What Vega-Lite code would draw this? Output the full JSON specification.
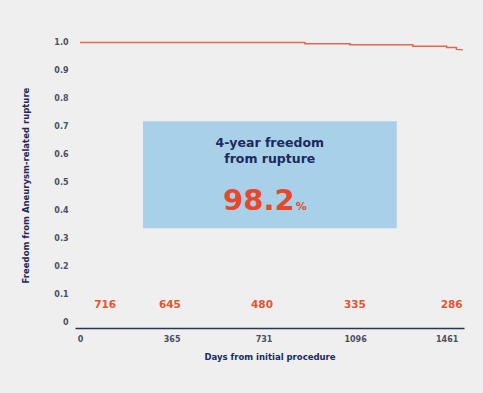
{
  "$schema": "https://vega.github.io/schema/vega-lite/v6.json",
  "autosize": {"type": "none"},
  "width": 389,
  "height": 294,
  "padding": {"left": 75, "top": 34, "right": 19, "bottom": 65},
  "background": "#efefef",
  "config": {"view": {"stroke": null}, "font": "DejaVu Sans", "axis": {"labelOverlap": false}},
  "datasets": {
    "km": [
      {"day": 0, "surv": 1.0},
      {"day": 896, "surv": 1.0},
      {"day": 896, "surv": 0.995},
      {"day": 1075, "surv": 0.995},
      {"day": 1075, "surv": 0.992},
      {"day": 1326, "surv": 0.992},
      {"day": 1326, "surv": 0.986},
      {"day": 1461, "surv": 0.986},
      {"day": 1461, "surv": 0.982},
      {"day": 1500, "surv": 0.982},
      {"day": 1500, "surv": 0.975},
      {"day": 1525, "surv": 0.974}
    ],
    "risk": [
      {"day": 100, "n": "716"},
      {"day": 358, "n": "645"},
      {"day": 725, "n": "480"},
      {"day": 1095, "n": "335"},
      {"day": 1481, "n": "286"}
    ],
    "box": [{"x1": 251, "x2": 1262, "y1": 0.336, "y2": 0.718}],
    "headline": [
      {"day": 756, "y": 0.641, "t": "4-year freedom"},
      {"day": 756, "y": 0.584, "t": "from rupture"}
    ],
    "value": [{"day": 855, "y": 0.401, "t": "98.2"}],
    "unit": [{"day": 860, "y": 0.401, "t": "%"}]
  },
  "layer": [
    {
      "data": {"name": "box"},
      "mark": {"type": "rect", "color": "#a8d0e9"},
      "encoding": {
        "x": {"field": "x1", "type": "quantitative", "scale": {"domain": [-20, 1530], "nice": false, "zero": false},
          "axis": {"values": [0, 365, 731, 1096, 1461], "format": "d", "title": "Days from initial procedure", "grid": false, "ticks": false,
            "domainColor": "#2b3452", "domainWidth": 1.6, "labelPadding": 7, "labelFontSize": 8, "labelColor": "#4a5064", "labelFontWeight": "bold",
            "labelOverlap": false, "labelFlush": false,
            "titleFontSize": 8.5, "titleColor": "#1c2a5c", "titleFontWeight": "bold", "titlePadding": 9}},
        "x2": {"field": "x2"},
        "y": {"field": "y1", "type": "quantitative", "scale": {"domain": [-0.02, 1.03], "nice": false, "zero": false},
          "axis": {"values": [0, 0.1, 0.2, 0.3, 0.4, 0.5, 0.6, 0.7, 0.8, 0.9, 1.0], "tickCount": 11, "labelExpr": "datum.value == 0 ? '0' : format(datum.value, '.1f')",
            "title": "Freedom from Aneurysm-related rupture", "grid": false, "ticks": false, "domain": false,
            "labelOverlap": false, "labelFlush": false,
            "labelPadding": 7, "labelFontSize": 8, "labelColor": "#4a5064", "labelFontWeight": "bold",
            "titleFontSize": 8.5, "titleColor": "#1c2a5c", "titleFontWeight": "bold", "titleX": -45, "titleY": 151}},
        "y2": {"field": "y2"}
      }
    },
    {
      "data": {"name": "km"},
      "mark": {"type": "line", "color": "#e8674f", "strokeWidth": 1.5},
      "encoding": {
        "x": {"field": "day", "type": "quantitative"},
        "y": {"field": "surv", "type": "quantitative"}
      }
    },
    {
      "data": {"name": "risk"},
      "mark": {"type": "text", "color": "#e8532f", "fontWeight": "bold", "fontSize": 10.5, "baseline": "middle"},
      "encoding": {
        "x": {"field": "day", "type": "quantitative"},
        "y": {"datum": 0.061, "type": "quantitative"},
        "text": {"field": "n"}
      }
    },
    {
      "data": {"name": "headline"},
      "mark": {"type": "text", "color": "#1c2a5c", "fontWeight": "bold", "fontSize": 12.5, "baseline": "middle"},
      "encoding": {
        "x": {"field": "day", "type": "quantitative"},
        "y": {"field": "y", "type": "quantitative"},
        "text": {"field": "t"}
      }
    },
    {
      "data": {"name": "value"},
      "mark": {"type": "text", "color": "#e8472a", "fontWeight": "bold", "fontSize": 29, "baseline": "alphabetic", "align": "right"},
      "encoding": {
        "x": {"field": "day", "type": "quantitative"},
        "y": {"field": "y", "type": "quantitative"},
        "text": {"field": "t"}
      }
    },
    {
      "data": {"name": "unit"},
      "mark": {"type": "text", "color": "#e8472a", "fontWeight": "bold", "fontSize": 11, "baseline": "alphabetic", "align": "left"},
      "encoding": {
        "x": {"field": "day", "type": "quantitative"},
        "y": {"field": "y", "type": "quantitative"},
        "text": {"field": "t"}
      }
    }
  ]
}
